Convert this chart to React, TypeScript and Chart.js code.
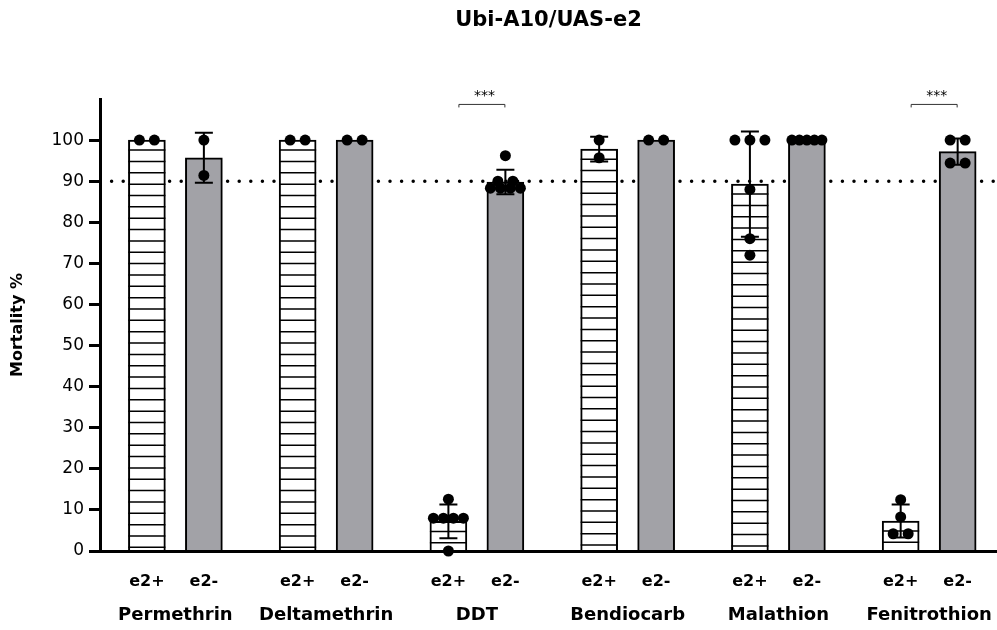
import React, { useEffect, useRef } from 'react';
import { Chart, registerables } from 'chart.js';

Chart.register(...registerables);

// ---------- data ----------
const TITLE = 'Ubi-A10/UAS-e2';
const Y_TITLE = 'Mortality %';
const categories = ['Permethrin', 'Deltamethrin', 'DDT', 'Bendiocarb', 'Malathion', 'Fenitrothion'];
const genotypes = ['e2+', 'e2-'];
const meanPlus = [100, 100, 7.2, 97.8, 89.3, 7.3];
const sdPlus = [0, 0, 4.1, 3.0, 12.8, 4.0];
const meanMinus = [95.7, 100, 89.8, 100, 100, 97.2];
const sdMinus = [6.1, 0, 3.0, 0, 0, 3.2];
const pointsPlus = [
  [100, 100],
  [100, 100],
  [12.6, 8, 8, 8, 8, 0],
  [100, 95.7],
  [100, 100, 100, 88, 76, 72],
  [12.5, 8.3, 4.2, 4.2],
];
const pointsMinus = [
  [100, 91.4],
  [100, 100],
  [96.2, 90, 90, 88.3, 88.3, 88.3, 88.3],
  [100, 100],
  [100, 100, 100, 100, 100],
  [100, 100, 94.4, 94.4],
];
const yTickValues = [0, 10, 20, 30, 40, 50, 60, 70, 80, 90, 100];
const threshold = 90;
const significantGroups = ['DDT', 'Fenitrothion'];
const significanceLabel = '***';

// ---------- layout constants ----------
const X_MIN = -0.5;
const X_MAX = 5.45;
const PAIR = 0.189;
const PX_PER_UNIT = 150.76;
const FONT = 'DejaVu Sans';
const GREY = '#a2a2a7';

function spread(values: number[], center: number) {
  const counts = new Map<number, number>();
  values.forEach((v) => counts.set(v, (counts.get(v) || 0) + 1));
  const seen = new Map<number, number>();
  return values.map((v) => {
    const n = counts.get(v) || 1;
    const k = seen.get(v) || 0;
    seen.set(v, k + 1);
    const step = n > 1 ? Math.min(15, 30 / (n - 1)) : 0;
    return { x: center + ((k - (n - 1) / 2) * step) / PX_PER_UNIT, y: v };
  });
}

const decorPlugin = {
  id: 'decor',
  afterDatasetDraw(chart: any, args: any) {
    const idx = args.index;
    if (idx !== 0 && idx !== 1) return;
    const ctx = chart.ctx;
    const yS = chart.scales.y;
    const means = idx === 0 ? meanPlus : meanMinus;
    const sds = idx === 0 ? sdPlus : sdMinus;
    args.meta.data.forEach((el: any, i: number) => {
      const p = el.getProps(['x', 'y', 'base', 'width'], true);
      if (idx === 0) {
        ctx.save();
        ctx.strokeStyle = '#000';
        ctx.lineWidth = 1.5;
        ctx.beginPath();
        for (let ly = p.y + 10; ly < p.base - 1; ly += 11.35) {
          ctx.moveTo(p.x - p.width / 2, ly);
          ctx.lineTo(p.x + p.width / 2, ly);
        }
        ctx.stroke();
        ctx.restore();
      }
      const sd = sds[i];
      if (sd > 0) {
        const yt = yS.getPixelForValue(means[i] + sd);
        const yb = yS.getPixelForValue(Math.max(0, means[i] - sd));
        ctx.save();
        ctx.strokeStyle = '#000';
        ctx.lineWidth = 2;
        ctx.beginPath();
        ctx.moveTo(p.x, yt);
        ctx.lineTo(p.x, yb);
        ctx.moveTo(p.x - 9, yt);
        ctx.lineTo(p.x + 9, yt);
        ctx.moveTo(p.x - 9, yb);
        ctx.lineTo(p.x + 9, yb);
        ctx.stroke();
        ctx.restore();
      }
    });
  },
  afterDatasetsDraw(chart: any) {
    const ctx = chart.ctx;
    const xS = chart.scales.x;
    const yS = chart.scales.y;
    significantGroups.forEach((g) => {
      const i = categories.indexOf(g);
      const x1 = xS.getPixelForValue(i - PAIR) + 10;
      const x2 = xS.getPixelForValue(i + PAIR) - 1;
      const yb = yS.getPixelForValue(108.8);
      ctx.save();
      ctx.strokeStyle = '#333';
      ctx.lineWidth = 1;
      ctx.beginPath();
      ctx.moveTo(x1 + 0.5, yb + 3.5);
      ctx.lineTo(x1 + 0.5, yb + 0.5);
      ctx.lineTo(x2 + 0.5, yb + 0.5);
      ctx.lineTo(x2 + 0.5, yb + 3.5);
      ctx.stroke();
      ctx.fillStyle = '#000';
      ctx.font = `14px "${FONT}"`;
      ctx.textAlign = 'center';
      ctx.textBaseline = 'alphabetic';
      ctx.fillText(significanceLabel, (x1 + x2) / 2 + 3, yb - 4);
      ctx.restore();
    });
  },
};

export default function App() {
  const ref = useRef<HTMLCanvasElement>(null);
  useEffect(() => {
    document.body.style.margin = '0';
    if (!ref.current) return;
    const plusBars = categories.map((_, i) => ({ x: i - PAIR, y: meanPlus[i] }));
    const minusBars = categories.map((_, i) => ({ x: i + PAIR, y: meanMinus[i] }));
    const plusPts = pointsPlus.flatMap((vals, i) => spread(vals, i - PAIR));
    const minusPts = pointsMinus.flatMap((vals, i) => spread(vals, i + PAIR));
    const chart = new Chart(ref.current, {
      type: 'bar',
      data: {
        datasets: [
          {
            type: 'bar',
            label: genotypes[0],
            data: plusBars as any,
            backgroundColor: '#fff',
            borderColor: '#000',
            borderWidth: 2,
            barThickness: 37,
            grouped: false,
            order: 2,
          } as any,
          {
            type: 'bar',
            label: genotypes[1],
            data: minusBars as any,
            backgroundColor: GREY,
            borderColor: '#000',
            borderWidth: 2,
            barThickness: 37,
            grouped: false,
            order: 2,
          } as any,
          {
            type: 'scatter',
            label: genotypes[0] + ' points',
            data: plusPts,
            pointRadius: 5.5,
            pointBackgroundColor: '#000',
            pointBorderWidth: 0,
            clip: false,
            order: 0,
          } as any,
          {
            type: 'scatter',
            label: genotypes[1] + ' points',
            data: minusPts,
            pointRadius: 5.5,
            pointBackgroundColor: '#000',
            pointBorderWidth: 0,
            clip: false,
            order: 0,
          } as any,
          {
            type: 'line',
            label: 'threshold',
            data: [
              { x: X_MIN, y: threshold },
              { x: X_MAX, y: threshold },
            ],
            borderColor: '#000',
            borderWidth: 3.5,
            borderDash: [0, 11.6],
            borderCapStyle: 'round',
            pointRadius: 0,
            order: 3,
          } as any,
        ],
      },
      options: {
        responsive: false,
        maintainAspectRatio: false,
        animation: false,
        layout: { padding: 0, autoPadding: false },
        plugins: {
          legend: { display: false },
          tooltip: { enabled: false },
          title: {
            display: true,
            text: TITLE,
            fullSize: false,
            color: '#000',
            font: { family: FONT, size: 21, weight: 'bold' },
            padding: { top: 8, bottom: 65.8 },
          },
        },
        scales: {
          x: {
            type: 'linear',
            min: X_MIN,
            max: X_MAX,
            position: 'bottom',
            offset: false,
            grid: { display: false, drawTicks: false },
            border: { display: true, width: 3, color: '#000', z: 1 },
            ticks: {
              autoSkip: false,
              maxRotation: 0,
              minRotation: 0,
              padding: 21,
              color: '#000',
              font: (c: any) =>
                c.index % 3 === 1
                  ? { family: FONT, size: 18, weight: 'bold', lineHeight: 1.593 }
                  : { family: FONT, size: 16, weight: 'bold', lineHeight: 1.2 },
              callback: (_v: any, i: number) => {
                const k = i % 3;
                const g = Math.floor(i / 3);
                if (k === 0) return genotypes[0];
                if (k === 2) return genotypes[1];
                return ['', categories[g]];
              },
            },
            afterBuildTicks: (scale: any) => {
              scale.ticks = categories.flatMap((_, i) => [
                { value: i - PAIR },
                { value: i },
                { value: i + PAIR },
              ]);
            },
            afterFit: (scale: any) => {
              scale.height = 79;
              scale.paddingLeft = 0;
              scale.paddingRight = 0;
            },
          },
          y: {
            type: 'linear',
            min: 0,
            max: 110,
            position: 'left',
            grid: {
              display: true,
              drawOnChartArea: false,
              drawTicks: true,
              tickLength: 11,
              tickWidth: 3,
              tickColor: '#000',
            },
            border: { display: true, width: 3, color: '#000' },
            ticks: {
              color: '#000',
              padding: 5,
              font: { family: FONT, size: 17 },
            },
            afterBuildTicks: (scale: any) => {
              scale.ticks = yTickValues.map((v) => ({ value: v }));
            },
            afterFit: (scale: any) => {
              scale.width = 100;
            },
            title: {
              display: true,
              text: Y_TITLE,
              color: '#000',
              font: { family: FONT, size: 16, weight: 'bold' },
              padding: { top: 8, bottom: 0 },
            },
          },
        },
      } as any,
      plugins: [decorPlugin],
    });
    return () => chart.destroy();
  }, []);
  return (
    <div style={{ width: 997, height: 630 }}>
      <canvas ref={ref} width={997} height={630} />
    </div>
  );
}
